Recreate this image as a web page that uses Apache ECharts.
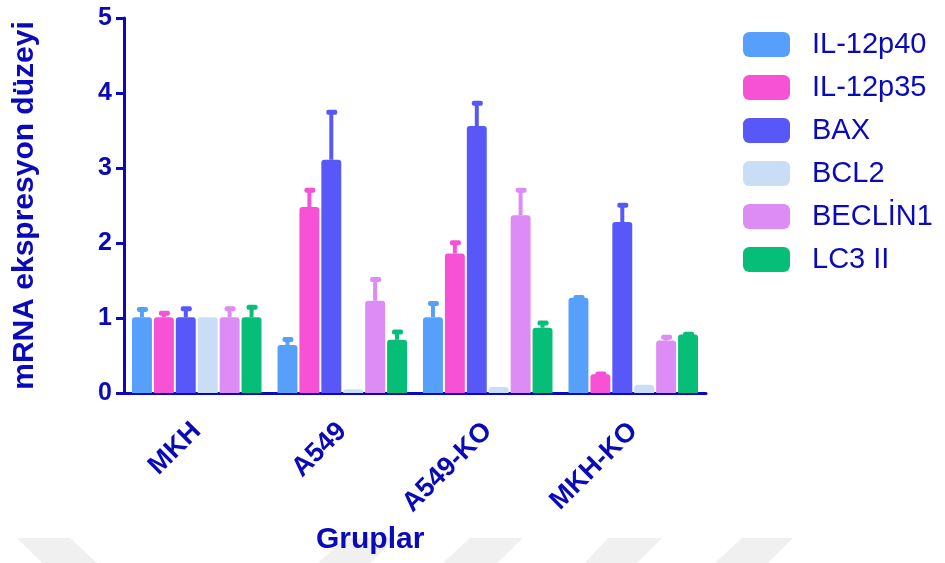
<!DOCTYPE html>
<html>
<head>
<meta charset="utf-8">
<script src="https://cdn.jsdelivr.net/npm/echarts@6/dist/echarts.min.js"></script>
<style>
  html, body { margin: 0; padding: 0; background: #fff; }
  #chart { width: 945px; height: 563px; }
</style>
</head>
<body>
<div id="chart"></div>
<script>
// gruplar
var categories = ['MKH', 'A549', 'A549-KO', 'MKH-KO'];
var seriesNames = ['IL-12p40', 'IL-12p35', 'BAX', 'BCL2', 'BECLİN1', 'LC3 II'];

// ortalama degerler
var il12p40 = [1.01, 0.64, 1.01, 1.27];
var il12p35 = [1.01, 2.48, 1.86, 0.25];
var bax     = [1.01, 3.11, 3.56, 2.28];
var bcl2    = [1.01, 0.05, 0.08, 0.11];
var beclin1 = [1.01, 1.23, 2.37, 0.70];
var lc3     = [1.01, 0.71, 0.87, 0.78];

// hata cubugu ust degerleri
var il12p40Err = [1.12, 0.72, 1.20, 1.28];
var il12p35Err = [1.07, 2.71, 2.01, 0.26];
var baxErr     = [1.13, 3.75, 3.87, 2.51];
var bcl2Err    = [1.01, 0.05, 0.08, 0.11];
var beclin1Err = [1.13, 1.52, 2.71, 0.75];
var lc3Err     = [1.15, 0.82, 0.94, 0.79];

var yTicks = [0, 1, 2, 3, 4, 5];

var colors = ['#56A0FB', '#F752D5', '#5858F8', '#C9DDF7', '#DD8BF5', '#06BE78'];
var axisColor = '#0A0ABB';

var means = [il12p40, il12p35, bax, bcl2, beclin1, lc3];
var errs = [il12p40Err, il12p35Err, baxErr, bcl2Err, beclin1Err, lc3Err];

var chart = echarts.init(document.getElementById('chart'));

var catGap = 0.11, barGapRatio = 0.1, nSeries = 6;

/* hata cubuklari (sadece yukari) */
function errRender(idx) {
    return function (params, api) {
        var ci = api.value(0);
        var mean = api.value(1);
        var top = api.value(2);
        if (top <= mean + 0.005) return null;
        var band = api.size([1, 0])[0];
        var group = band * (1 - catGap);
        var bw = group / (nSeries + (nSeries - 1) * barGapRatio);
        var cx = api.coord([ci, 0])[0] - group / 2 + idx * bw * (1 + barGapRatio) + bw / 2;
        var y0 = api.coord([ci, mean])[1];
        var y1 = api.coord([ci, top])[1];
        var c = colors[idx];
        return {
            type: 'group',
            children: [
                { type: 'line', shape: { x1: cx, y1: y0, x2: cx, y2: y1 + 1 }, style: { stroke: c, lineWidth: 4 } },
                { type: 'rect', shape: { x: cx - 5, y: y1 - 2, width: 11, height: 5, r: 2 }, style: { fill: c } }
            ]
        };
    };
}

var series = [];
for (var i = 0; i < nSeries; i++) {
    series.push({
        name: seriesNames[i],
        type: 'bar',
        barCategoryGap: (catGap * 100) + '%',
        barGap: (barGapRatio * 100) + '%',
        itemStyle: { color: colors[i], borderRadius: [3, 3, 0, 0] },
        data: means[i],
        z: 2
    });
}
for (var j = 0; j < nSeries; j++) {
    var d = [];
    for (var k = 0; k < categories.length; k++) d.push([k, means[j][k], errs[j][k]]);
    series.push({
        type: 'custom',
        renderItem: errRender(j),
        data: d,
        encode: { x: 0, y: 2 },
        z: 1,
        silent: true
    });
}

// arka plan filigran sekilleri
function para(x1, x2, bx1, bx2) {
    return {
        type: 'polygon', silent: true, z: -10,
        shape: { points: [[x1, 538], [x2, 538], [bx2, 563], [bx1, 563]] },
        style: { fill: '#f0f0f0' }
    };
}

var option = {
    backgroundColor: '#fff',
    animation: false,
    textStyle: { fontFamily: 'Liberation Sans, Arial, sans-serif' },
    grid: { left: 124, top: 18, right: 239, bottom: 170 },
    graphic: [
        para(17, 70, 42, 97),
        para(345, 395, 318, 370),
        para(470, 523, 443, 497),
        para(608, 662, 585, 637),
        para(742, 793, 715, 768),
        {
            type: 'text', left: 316, top: 525, z: 10,
            style: { text: 'Gruplar', fill: axisColor, font: 'bold 30px Liberation Sans, Arial, sans-serif' }
        }
    ],
    legend: {
        data: seriesNames,
        orient: 'vertical',
        left: 738,
        top: 25,
        itemWidth: 47,
        itemHeight: 25,
        itemGap: 14,
        icon: 'roundRect',
        textStyle: { color: axisColor, fontSize: 29, lineHeight: 25, padding: [0, 0, 0, 17] }
    },
    xAxis: {
        type: 'category',
        data: categories,
        axisLine: { lineStyle: { color: axisColor, width: 3 } },
        axisTick: { alignWithLabel: true, length: 8, lineStyle: { color: axisColor, width: 3 } },
        axisLabel: { color: axisColor, fontSize: 27, fontWeight: 'bold', rotate: 45, margin: 34, interval: 0 }
    },
    yAxis: {
        type: 'value',
        min: 0,
        max: 5,
        interval: 1,
        name: 'mRNA ekspresyon düzeyi',
        nameLocation: 'middle',
        nameGap: 84,
        nameTextStyle: { color: axisColor, fontSize: 30, fontWeight: 'bold' },
        splitLine: { show: false },
        axisLine: { show: true, lineStyle: { color: axisColor, width: 3 } },
        axisTick: { show: true, length: 8, lineStyle: { color: axisColor, width: 3 } },
        axisLabel: {
            color: axisColor, fontSize: 25, fontWeight: 'bold', margin: 12,
            formatter: function (v) { return yTicks.indexOf(v) >= 0 ? String(v) : ''; }
        }
    },
    series: series
};

chart.setOption(option);
</script>
</body>
</html>
